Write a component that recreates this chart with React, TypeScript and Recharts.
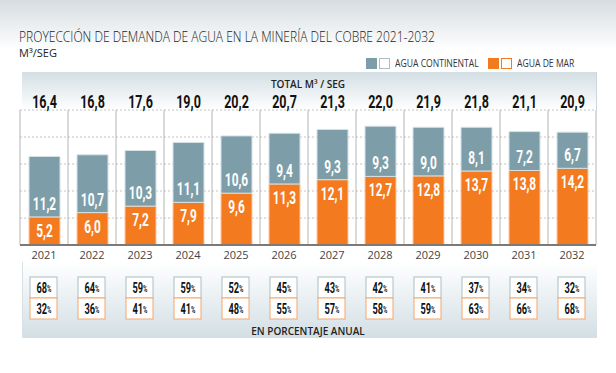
import React from 'react'
import { BarChart, Bar, XAxis, YAxis, CartesianGrid, LabelList } from 'recharts'

// m³/seg por año
const years = ['2021', '2022', '2023', '2024', '2025', '2026', '2027', '2028', '2029', '2030', '2031', '2032']
const continental = [11.2, 10.7, 10.3, 11.1, 10.6, 9.4, 9.3, 9.3, 9.0, 8.1, 7.2, 6.7]
const mar = [5.2, 6.0, 7.2, 7.9, 9.6, 11.3, 12.1, 12.7, 12.8, 13.7, 13.8, 14.2]
const totals = [16.4, 16.8, 17.6, 19.0, 20.2, 20.7, 21.3, 22.0, 21.9, 21.8, 21.1, 20.9]
// porcentaje anual
const pctContinental = [68, 64, 59, 59, 52, 45, 43, 42, 41, 37, 34, 32]
const pctMar = [32, 36, 41, 41, 48, 55, 57, 58, 59, 63, 66, 68]
const yTicks = [0, 5, 10, 15, 20]

const GRAY = '#7d9ea9'
const ORANGE = '#f47a1f'
const COND = 'Roboto, "Liberation Sans", sans-serif'
const PLOT_TOP = 110
const TOTAL_Y = 102

const data = years.map((year, i) => ({
  year,
  continental: continental[i],
  mar: mar[i],
}))

const fmt = (v: number) => v.toFixed(1).replace('.', ',')

function CondText({ x, y, size, fill, sx = 0.66, children }: any) {
  return (
    <text
      transform={`translate(${x},${y}) scale(${sx},1)`}
      textAnchor="middle"
      dominantBaseline="central"
      fontFamily={COND}
      fontWeight={700}
      fontSize={size}
      fill={fill}
    >
      {children}
    </text>
  )
}

function GrayLabel(props: any) {
  const { x, y, width, height, value, index } = props
  const cx = x + width / 2
  return (
    <g>
      <CondText x={cx} y={y + height - 13} size={18} fill="#fff">{fmt(value)}</CondText>
      <CondText x={cx} y={TOTAL_Y} size={19} fill="#111">{fmt(totals[index])}</CondText>
    </g>
  )
}

function OrangeLabel(props: any) {
  const { x, y, width, value } = props
  return <CondText x={x + width / 2} y={y + 14} size={18} fill="#fff">{fmt(value)}</CondText>
}

function Pct({ x, y, v }: { x: number; y: number; v: number }) {
  return (
    <CondText x={x} y={y} size={14} fill="#111" sx={0.66}>
      {v}
      <tspan fontSize={9}>%</tspan>
    </CondText>
  )
}

function YearTick(props: any) {
  const { x, y, payload, index } = props
  const i = payload?.index ?? index
  return (
    <g>
      <text x={x} y={y + 9} textAnchor="middle" dominantBaseline="central" fontFamily='"Open Sans", sans-serif' fontSize={11} fill="#444">
        {payload.value}
      </text>
      <rect x={x - 14} y={y + 32} width={27} height={21} fill="#fff" stroke="#a9bec5" />
      <rect x={x - 14} y={y + 53} width={27} height={21} fill="#fff" stroke="#f5a56b" />
      <Pct x={x} y={y + 43} v={pctContinental[i]} />
      <Pct x={x} y={y + 64} v={pctMar[i]} />
    </g>
  )
}

function LegendItem({ left, color, border, label }: { left: number; color: string; border: string; label: string }) {
  return (
    <div style={{ position: 'absolute', left, top: 56, display: 'flex', alignItems: 'center', gap: 2 }}>
      <span style={{ width: 11, height: 11, background: color }} />
      <span style={{ width: 9, height: 9, border: `1px solid ${border}`, background: '#fff' }} />
      <span style={{ marginLeft: 3, fontSize: 10, color: '#333', transform: 'scaleX(0.86)', transformOrigin: 'left', whiteSpace: 'nowrap' }}>{label}</span>
    </div>
  )
}

export default function App() {
  return (
    <div style={{ position: 'absolute', left: 0, top: 0, width: 616, height: 373, background: '#fff', overflow: 'hidden', fontFamily: '"Open Sans", sans-serif' }}>
      <div style={{ position: 'absolute', left: 0, top: 0, width: 616, height: 50, background: 'linear-gradient(#d6dde0, #ffffff)' }} />
      <div style={{ position: 'absolute', left: 22, top: 72, width: 574, height: 38, background: 'linear-gradient(#d3dfe4, #ffffff)', borderRight: '1px solid #c9d6db' }} />
      <div style={{ position: 'absolute', left: 22, top: 262, width: 574, height: 76, background: 'linear-gradient(#ffffff, #d3dfe4)', borderLeft: '1px solid #d8e2e6' }} />

      <div style={{ position: 'absolute', left: 19, top: 29, fontSize: 14, lineHeight: '16px', fontWeight: 300, color: '#222', whiteSpace: 'nowrap', transform: 'scaleX(0.86)', transformOrigin: 'left' }}>
        PROYECCIÓN DE DEMANDA DE AGUA EN LA MINERÍA DEL COBRE 2021-2032
      </div>
      <div style={{ position: 'absolute', left: 19, top: 46, fontSize: 11, lineHeight: '13px', color: '#222', whiteSpace: 'nowrap' }}>
        M³/SEG
      </div>
      <LegendItem left={366} color={GRAY} border="#a9bec5" label="AGUA CONTINENTAL" />
      <LegendItem left={488} color={ORANGE} border={ORANGE} label="AGUA DE MAR" />
      <div style={{ position: 'absolute', left: 0, width: 616, top: 77, textAlign: 'center', fontSize: 10, fontWeight: 600, color: '#222' }}>
        TOTAL M³ / SEG
      </div>
      <div style={{ position: 'absolute', left: 0, width: 616, top: 324, textAlign: 'center', fontSize: 10, fontWeight: 600, color: '#222' }}>
        EN PORCENTAJE ANUAL
      </div>

      <div style={{ position: 'absolute', left: 0, top: 0 }}>
        <BarChart width={616} height={373} data={data} margin={{ top: PLOT_TOP, right: 20, left: 20, bottom: 28 }}>
          <CartesianGrid vertical={false} stroke="#c4c4c4" strokeDasharray="2 2" />
          <CartesianGrid
            horizontal={false}
            stroke="#b4b4b4"
            verticalCoordinatesGenerator={({ offset }: any) =>
              Array.from({ length: years.length + 1 }, (_, i) => offset.left + (i * offset.width) / years.length)
            }
          />
          <XAxis
            dataKey="year"
            height={100}
            tickLine={false}
            tickSize={0}
            tickMargin={0}
            interval={0}
            axisLine={{ stroke: '#7a7a7a', strokeWidth: 2 }}
            tick={<YearTick />}
          />
          <YAxis hide domain={[0, 25]} ticks={yTicks} />
          <Bar dataKey="mar" stackId="a" fill={ORANGE} stroke="#f9c9a5" strokeWidth={1} barSize={31} isAnimationActive={false}>
            <LabelList dataKey="mar" content={<OrangeLabel />} />
          </Bar>
          <Bar dataKey="continental" stackId="a" fill={GRAY} stroke="#d6e2e6" strokeWidth={1} barSize={31} isAnimationActive={false}>
            <LabelList dataKey="continental" content={<GrayLabel />} />
          </Bar>
        </BarChart>
      </div>
    </div>
  )
}
